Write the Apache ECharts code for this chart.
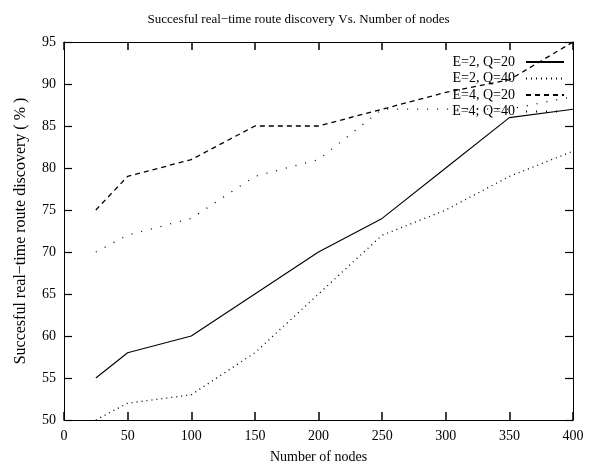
<!DOCTYPE html>
<html>
<head>
<meta charset="utf-8">
<script src="https://cdn.jsdelivr.net/npm/echarts@6/dist/echarts.min.js"></script>
<style>html,body{margin:0;padding:0;background:#fff}#c{width:597px;height:470px}</style>
</head>
<body>
<div id="c"></div>
<script>
const nodes = [25, 50, 100, 150, 200, 250, 300, 350, 400];
const e2q20 = [55, 58, 60, 65, 70, 74, 80, 86, 87];
const e2q40 = [50, 52, 53, 58, 65, 72, 75, 79, 82];
const e4q20 = [75, 79, 81, 85, 85, 87, 89, 90.5, 95];
const e4q40 = [70, 72, 74, 79, 81, 87, 87, 87, 88.5];
const seriesNames = ['E=2, Q=20', 'E=2, Q=40', 'E=4, Q=20', 'E=4; Q=40'];
const seriesData = [e2q20, e2q40, e4q20, e4q40];
const dashTypes = ['solid', [1, 4], [5, 4], [1, 9]];

const font = 'Liberation Serif';
const chart = echarts.init(document.getElementById('c'), null, {renderer: 'canvas'});
function tick(w) {
  return {show: true, inside: true, interval: 0, length: 8, lineStyle: {color: '#000', width: w}};
}
function line() {
  return {show: true, onZero: false, lineStyle: {color: '#000', width: 1}};
}
chart.setOption({
  animation: false,
  backgroundColor: '#fff',
  title: {
    text: 'Succesful real\u2212time route discovery Vs. Number of nodes',
    left: 'center', top: 8,
    textStyle: {fontFamily: font, fontSize: 13, fontWeight: 'normal', color: '#000'}
  },
  grid: {left: 64, right: 24, top: 42, bottom: 50, containLabel: false},
  legend: {
    data: seriesNames,
    orient: 'vertical',
    right: 27, top: 50,
    align: 'right',
    itemWidth: 38, itemHeight: 14, itemGap: 2.5,
    itemStyle: {opacity: 0},
    textStyle: {fontFamily: font, fontSize: 14, color: '#000', padding: [0, 6, 0, 0]},
    inactiveColor: '#000'
  },
  xAxis: [
    {
      type: 'value', min: 0, max: 400, interval: 50, position: 'bottom',
      name: 'Number of nodes', nameLocation: 'middle', nameGap: 30,
      nameTextStyle: {fontFamily: font, fontSize: 14, color: '#000'},
      axisLabel: {fontFamily: font, fontSize: 14, color: '#000', margin: 9},
      axisLine: line(), axisTick: tick(1.5), splitLine: {show: false}
    },
    {
      type: 'value', min: 0, max: 400, interval: 50, position: 'top',
      axisLabel: {show: false},
      axisLine: line(), axisTick: tick(1.5), splitLine: {show: false}
    }
  ],
  yAxis: [
    {
      type: 'value', min: 50, max: 95, interval: 5, position: 'left',
      name: 'Succesful real\u2212time route discovery ( % )', nameLocation: 'middle', nameGap: 35,
      nameTextStyle: {fontFamily: font, fontSize: 16, color: '#000'},
      axisLabel: {fontFamily: font, fontSize: 14, color: '#000', margin: 8},
      axisLine: line(), axisTick: tick(1.2), splitLine: {show: false}
    },
    {
      type: 'value', min: 50, max: 95, interval: 5, position: 'right',
      axisLabel: {show: false},
      axisLine: line(), axisTick: tick(1.2), splitLine: {show: false}
    }
  ],
  series: seriesNames.map((name, i) => ({
    name: name,
    type: 'line',
    xAxisIndex: 0, yAxisIndex: 0,
    data: nodes.map((x, j) => [x, seriesData[i][j]]),
    showSymbol: false, symbol: 'none',
    lineStyle: {color: '#000', width: i === 0 ? 1.1 : 1.3, type: dashTypes[i]},
    itemStyle: {color: '#000'},
    z: 2
  }))
});
</script>
</body>
</html>
